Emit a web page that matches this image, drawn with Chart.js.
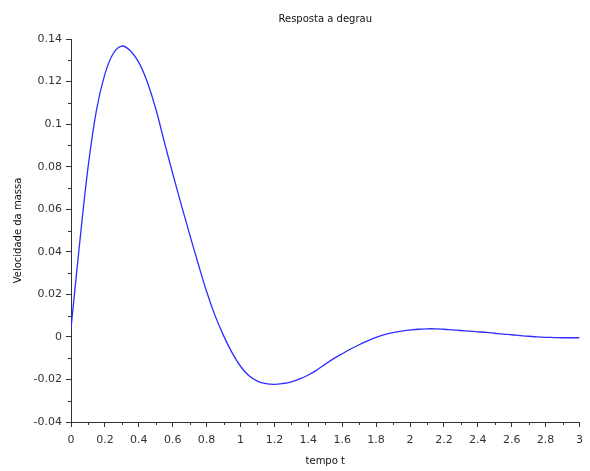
<!DOCTYPE html>
<html>
<head>
<meta charset="utf-8">
<script src="https://cdn.jsdelivr.net/npm/chart.js@4/dist/chart.umd.min.js"></script>
<style>
  html, body { margin: 0; padding: 0; background: #fff; }
  #wrap { width: 590px; height: 471px; position: relative; }
</style>
</head>
<body>
<div id="wrap"><canvas id="c" width="590" height="471"></canvas></div>
<script>
const chartTitle = 'Resposta a degrau';
const xTitle = 'tempo t';
const yTitle = 'Velocidade da massa';

const tempo = [0, 0.05, 0.1, 0.15, 0.2, 0.25, 0.3, 0.35, 0.4, 0.45, 0.5, 0.55, 0.6, 0.65, 0.7, 0.75, 0.8, 0.85, 0.9, 0.95,
  1.0, 1.05, 1.1, 1.15, 1.2, 1.25, 1.3, 1.35, 1.4, 1.45, 1.5, 1.55, 1.6, 1.65, 1.7, 1.75, 1.8, 1.85, 1.9, 1.95,
  2.0, 2.05, 2.1, 2.15, 2.2, 2.25, 2.3, 2.35, 2.4, 2.45, 2.5, 2.55, 2.6, 2.65, 2.7, 2.75, 2.8, 2.85, 2.9, 2.95, 3.0];
const velocidade = [0.004, 0.0432, 0.0793, 0.1065, 0.1235, 0.1333, 0.1367, 0.1345, 0.1290, 0.1198, 0.1072, 0.0918, 0.0768, 0.0623, 0.0482, 0.0345, 0.0213, 0.0100, 0.0006, -0.0074,
  -0.0138, -0.0183, -0.0208, -0.0220, -0.0223, -0.0219, -0.0211, -0.0197, -0.0179, -0.0156, -0.0128, -0.0102, -0.0079, -0.0057, -0.0037, -0.0019, -0.0002, 0.0011, 0.0020, 0.0027,
  0.0032, 0.0036, 0.0038, 0.0038, 0.0036, 0.0033, 0.0030, 0.0027, 0.0024, 0.0021, 0.0017, 0.0013, 0.0010, 0.0006, 0.0003, 0.0000, -0.0002, -0.0003, -0.0004, -0.0004, -0.0004];

const xTicksMin = 0, xTicksMax = 3, xStep = 0.2;
const yTicksMin = -0.04, yTicksMax = 0.14, yStep = 0.02;

const points = tempo.map((t, i) => ({ x: t, y: velocidade[i] }));

const FONT = '"DejaVu Sans", sans-serif';
const AXIS = '#333';

const minorTicks = {
  id: 'minorTicks',
  afterDraw(chart) {
    const ctx = chart.ctx;
    const xs = chart.scales.x, ys = chart.scales.y;
    ctx.save();
    ctx.strokeStyle = AXIS;
    ctx.lineWidth = 1;
    ctx.beginPath();
    for (let v = xTicksMin + xStep / 2; v < xTicksMax; v += xStep) {
      const px = Math.round(xs.getPixelForValue(v)) + 0.5;
      ctx.moveTo(px, xs.top);
      ctx.lineTo(px, xs.top + 3);
    }
    for (let v = yTicksMin + yStep / 2; v < yTicksMax; v += yStep) {
      const py = Math.round(ys.getPixelForValue(v)) + 0.5;
      ctx.moveTo(ys.right, py);
      ctx.lineTo(ys.right - 3, py);
    }
    ctx.stroke();
    ctx.fillStyle = '#111';
    ctx.font = '10px ' + FONT;
    ctx.textAlign = 'center';
    ctx.textBaseline = 'middle';
    const ca = chart.chartArea;
    ctx.fillText(chartTitle, (ca.left + ca.right) / 2, 19);
    ctx.restore();
  }
};

new Chart(document.getElementById('c'), {
  type: 'line',
  data: {
    datasets: [{
      data: points,
      borderColor: 'rgb(45,45,255)',
      borderWidth: 1.3,
      pointRadius: 0,
      fill: false,
      tension: 0.4
    }]
  },
  options: {
    responsive: false,
    animation: false,
    layout: { padding: { top: 39, right: 8, left: 0, bottom: 0 } },
    plugins: { legend: { display: false }, tooltip: { enabled: false }, title: { display: false } },
    scales: {
      x: {
        type: 'linear',
        min: xTicksMin, max: xTicksMax,
        afterFit(s) { s.height = 49; },
        border: { display: true, color: AXIS, width: 1 },
        grid: { display: true, drawOnChartArea: false, drawTicks: true, tickLength: 5, tickColor: AXIS },
        ticks: {
          stepSize: xStep, color: '#333', padding: 7, maxRotation: 0, autoSkip: false,
          font: { family: FONT, size: 11 },
          callback: v => String(Math.round(v * 10) / 10)
        },
        title: { display: true, text: xTitle, color: '#111', font: { family: FONT, size: 10 }, padding: { top: 0, bottom: 4 } }
      },
      y: {
        type: 'linear',
        min: yTicksMin, max: yTicksMax,
        afterFit(s) { s.width = 71; },
        border: { display: true, color: AXIS, width: 1 },
        grid: { display: true, drawOnChartArea: false, drawTicks: true, tickLength: 5, tickColor: AXIS },
        ticks: {
          stepSize: yStep, color: '#333', padding: 4, autoSkip: false,
          font: { family: FONT, size: 11 },
          callback: v => String(Math.round(v * 100) / 100)
        },
        title: { display: true, text: yTitle, color: '#111', font: { family: FONT, size: 10 }, padding: { top: 12, bottom: 0 } }
      }
    }
  },
  plugins: [minorTicks]
});
</script>
</body>
</html>
